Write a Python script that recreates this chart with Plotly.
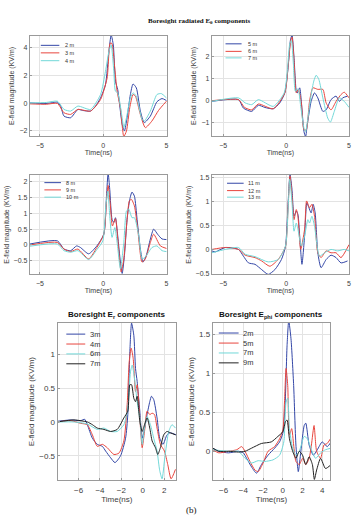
import plotly.graph_objects as go

# ---------------- data ----------------
# Panel 1: Boresight radiated E_theta, 2/3/4 m
p1_t_2m = [-5.8, -4.6, -3.9, -3.62, -3.36, -3.1, -2.57, -2.0, -1.65, -1.0, -0.6, -0.21, 0.18, 0.45, 0.63, 0.8, 0.97, 1.15, 1.5, 1.68, 1.89, 2.15, 2.36, 2.62, 2.94, 3.25, 3.73, 4.25, 4.65, 5.0]
p1_v_2m = [0.02, -0.03, 0.05, 0.07, -0.21, -0.93, -1.05, -0.45, -0.52, -0.57, -0.21, 0.38, 1.33, 3.71, 4.9, 4.19, 1.57, 0.98, -1.52, -2.0, -1.05, 0.62, 1.38, 1.1, -0.57, -1.4, -0.93, 0.1, 0.33, 0.19]
p1_t_3m = [-5.8, -4.5, -3.62, -3.1, -2.57, -2.0, -1.0, -0.21, 0.31, 0.55, 0.68, 0.89, 1.1, 1.36, 1.63, 1.84, 2.1, 2.36, 2.55, 2.94, 3.33, 3.85, 4.38, 5.0]
p1_v_3m = [-0.05, -0.08, -0.02, -0.69, -0.81, -0.45, -0.57, 0.26, 1.81, 4.31, 4.31, 2.76, 0.86, -0.33, -2.4, -2.0, -0.33, 0.62, 0.5, -0.81, -1.76, -1.29, -0.52, 0.14]
p1_t_4m = [-5.8, -4.5, -3.62, -3.1, -2.57, -2.0, -1.0, -0.21, 0.18, 0.45, 0.63, 0.84, 0.97, 1.15, 1.5, 1.63, 1.84, 2.15, 2.36, 2.62, 3.07, 3.25, 3.73, 4.25, 4.6, 5.0]
p1_v_4m = [0.02, 0.05, 0.14, -0.45, -0.57, -0.21, -0.45, 0.62, 2.29, 3.71, 4.19, 2.29, 0.86, 0.74, -1.05, -1.76, -1.05, 0.38, 0.74, 0.5, -1.17, -1.29, -0.57, 0.62, 0.69, 0.38]

# Panel 2: 5/6/7 m
p2_t_5m = [-5.9, -3.78, -3.39, -2.73, -2.2, -1.68, -1.02, -0.5, -0.1, 0.16, 0.34, 0.47, 0.63, 0.81, 0.89, 1.08, 1.21, 1.42, 1.55, 1.68, 1.99, 2.26, 2.52, 2.92, 3.18, 3.57, 3.97, 4.23, 4.49, 4.88]
p2_v_5m = [-0.05, 0.03, -0.36, -0.51, -0.23, -0.33, -0.39, -0.12, 0.34, 1.5, 2.74, 3.0, 1.97, 0.42, 0.34, 0.57, -0.05, -1.44, -1.67, -1.13, -0.05, 0.34, 0.11, -0.51, -0.44, 0.03, 0.19, -0.05, 0.11, 0.19]
p2_t_6m = [-5.9, -3.78, -3.3, -2.73, -2.2, -1.02, -0.1, 0.16, 0.37, 0.47, 0.63, 0.81, 0.97, 1.21, 1.42, 1.6, 1.86, 2.13, 2.52, 2.92, 3.18, 3.57, 3.97, 4.36, 4.62, 5.0]
p2_v_6m = [-0.02, 0.03, -0.33, -0.44, -0.17, -0.39, 0.34, 1.57, 2.74, 2.9, 1.81, 0.34, 0.5, -0.12, -1.36, -1.36, -0.05, 0.57, 0.5, 0.5, -0.12, -0.44, -0.05, 0.26, 0.37, 0.11]
p2_t_7m = [-5.9, -3.78, -3.25, -2.73, -2.2, -1.02, -0.15, 0.1, 0.29, 0.42, 0.58, 0.74, 0.95, 1.16, 1.42, 1.55, 1.73, 1.99, 2.2, 2.39, 2.6, 2.92, 3.31, 3.52, 3.83, 4.23, 4.62, 5.0]
p2_v_7m = [-0.05, 0.11, -0.12, -0.2, 0.03, -0.28, 0.34, 1.35, 2.59, 2.74, 1.66, 0.42, 0.53, -0.28, -1.28, -1.44, -0.82, 0.26, 0.88, 1.15, 0.96, 0.11, -0.82, -1.0, -0.51, 0.11, -0.05, -0.33]

# Panel 3: 8/9/10 m
p3_t_8m = [-5.8, -3.62, -3.1, -2.57, -2.1, -1.8, -1.15, -0.5, 0.05, 0.26, 0.39, 0.52, 0.7, 0.84, 0.97, 1.15, 1.36, 1.5, 1.68, 1.89, 2.1, 2.28, 2.47, 2.68, 2.94, 3.15, 3.41, 3.73, 3.99, 4.3, 4.65, 5.0]
p3_v_8m = [0.03, 0.13, -0.13, -0.18, -0.03, -0.08, -0.28, -0.03, 0.34, 1.54, 2.27, 1.75, 0.81, 0.71, 0.86, 0.29, -0.54, -0.9, -0.33, 0.81, 1.44, 1.67, 1.54, 0.81, -0.13, -0.54, -0.33, 0.19, 0.5, 0.34, 0.19, 0.17]
p3_t_9m = [-5.8, -3.62, -3.1, -2.57, -2.0, -1.15, -0.5, 0.05, 0.26, 0.39, 0.57, 0.73, 0.97, 1.15, 1.42, 1.63, 1.89, 2.07, 2.23, 2.47, 2.73, 3.07, 3.33, 3.73, 3.99, 4.52, 5.0]
p3_v_9m = [0.0, 0.08, -0.13, -0.21, -0.13, -0.44, -0.08, 0.34, 1.39, 1.88, 1.23, 0.6, 0.83, 0.19, -0.85, -0.44, 0.81, 1.39, 1.44, 1.23, 0.5, -0.54, -0.44, 0.08, 0.34, -0.03, -0.11]
p3_t_10m = [-5.8, -3.62, -3.1, -2.57, -2.0, -1.15, -0.5, -0.03, 0.21, 0.37, 0.52, 0.7, 0.92, 1.1, 1.36, 1.63, 1.84, 2.02, 2.28, 2.47, 2.81, 3.07, 3.33, 3.86, 4.25, 4.65, 5.0]
p3_v_10m = [-0.04, 0.03, -0.18, -0.23, -0.18, -0.46, -0.15, 0.13, 1.23, 1.7, 0.9, 0.24, 0.55, 0.08, -0.75, 0.08, 1.07, 1.13, 0.86, 0.86, 0.29, -0.44, -0.38, -0.08, -0.03, -0.18, -0.21]

# Panel 4: 11/12/13 m
p4_t_11m = [-5.9, -5.62, -4.83, -3.78, -3.39, -2.99, -2.47, -1.94, -1.42, -0.89, -0.37, -0.05, 0.16, 0.31, 0.47, 0.63, 0.81, 0.94, 1.08, 1.26, 1.47, 1.65, 1.81, 1.99, 2.15, 2.31, 2.52, 2.78, 3.18, 3.57, 3.97, 4.36, 4.88]
p4_v_11m = [-0.03, -0.05, 0.04, 0.0, -0.14, -0.28, -0.31, -0.42, -0.52, -0.42, -0.21, 0.06, 0.97, 1.56, 1.25, 0.69, 0.8, 0.73, 0.28, -0.31, 0.28, 0.97, 0.87, 0.76, 0.94, 0.76, -0.07, -0.38, -0.21, -0.12, -0.17, -0.28, -0.24]
p4_t_12m = [-5.9, -4.83, -3.78, -3.25, -2.47, -1.94, -1.29, -0.63, -0.05, 0.16, 0.31, 0.47, 0.63, 0.81, 0.94, 1.16, 1.47, 1.63, 1.86, 2.05, 2.26, 2.52, 2.78, 3.18, 3.57, 3.97, 4.36, 5.0]
p4_v_12m = [0.0, 0.04, 0.0, -0.12, -0.17, -0.24, -0.35, -0.21, 0.06, 0.9, 1.53, 1.11, 0.62, 0.83, 0.69, 0.0, 0.42, 1.01, 0.87, 0.94, 0.69, -0.07, -0.17, -0.03, -0.07, -0.07, -0.17, 0.1]
p4_t_13m = [-5.9, -4.83, -3.78, -3.25, -2.47, -1.42, -0.63, -0.05, 0.16, 0.29, 0.47, 0.63, 0.81, 0.94, 1.21, 1.47, 1.73, 1.86, 2.05, 2.26, 2.65, 3.05, 3.57, 4.1, 4.62, 5.0]
p4_v_13m = [-0.07, 0.0, 0.04, -0.1, -0.15, -0.26, -0.21, 0.07, 0.83, 1.46, 0.97, 0.38, 0.55, 0.42, 0.07, 0.28, 0.62, 0.55, 0.69, 0.48, -0.14, -0.07, 0.0, -0.03, 0.0, -0.03]

# Panel 5: Boresight E_r, 3/4/6/7 m
p5_t_3m = [-8.0, -6.73, -5.8, -5.43, -5.18, -4.71, -4.25, -3.78, -3.47, -3.0, -2.6, -2.08, -1.61, -1.4, -1.21, -1.05, -0.84, -0.68, -0.53, -0.28, -0.06, 0.16, 0.4, 0.65, 0.81, 1.02, 1.33, 1.58, 1.89, 2.26, 2.57, 3.1]
p5_v_3m = [0.01, 0.03, 0.02, 0.04, -0.04, -0.24, -0.33, -0.36, -0.43, -0.53, -0.6, -0.5, -0.24, 0.11, 1.04, 1.46, 1.28, 0.79, 0.6, 0.16, -0.24, -0.1, 0.11, 0.3, 0.38, 0.33, 0.06, -0.24, -0.33, -0.19, -0.16, -0.19]
p5_t_4m = [-8.0, -6.73, -5.8, -5.18, -4.71, -4.25, -3.78, -3.32, -2.7, -2.23, -1.77, -1.46, -1.27, -1.09, -0.9, -0.68, -0.53, -0.28, -0.06, 0.16, 0.4, 0.65, 0.87, 1.09, 1.33, 1.64, 2.02, 2.33, 2.64, 3.05]
p5_v_4m = [0.0, 0.02, -0.02, -0.04, -0.19, -0.36, -0.33, -0.38, -0.48, -0.46, -0.28, 0.26, 0.89, 1.09, 0.94, 0.45, 0.55, 0.06, -0.38, -0.14, 0.16, 0.11, 0.13, 0.11, -0.09, -0.33, -0.43, -0.63, -0.84, -0.7]
p5_t_6m = [-8.0, -6.42, -5.18, -4.25, -3.63, -3.01, -2.39, -1.77, -1.4, -1.15, -0.99, -0.78, -0.53, -0.28, -0.06, 0.16, 0.4, 0.71, 1.02, 1.33, 1.58, 1.8, 2.05, 2.42, 2.73, 3.05]
p5_v_6m = [0.0, 0.0, -0.03, -0.11, -0.09, -0.14, -0.14, -0.04, 0.21, 0.74, 0.84, 0.65, 0.3, 0.06, -0.33, -0.09, 0.08, -0.04, -0.24, -0.43, -0.72, -0.84, -0.53, -0.14, -0.04, -0.09]
p5_t_7m = [-8.0, -6.42, -5.18, -4.71, -4.25, -3.63, -3.01, -2.39, -1.77, -1.4, -1.21, -1.05, -0.84, -0.68, -0.53, -0.28, -0.06, 0.16, 0.4, 0.65, 0.87, 1.18, 1.4, 1.64, 1.95, 2.26, 2.57, 3.05]
p5_v_7m = [0.0, 0.03, 0.0, -0.04, -0.09, -0.11, -0.14, -0.11, 0.06, 0.16, 0.55, 0.55, 0.35, 0.3, 0.38, 0.01, -0.14, -0.04, 0.06, -0.09, -0.28, -0.38, -0.48, -0.38, -0.19, -0.14, -0.16, -0.19]

# Panel 6: Boresight E_phi, 2/5/7/9 m
p6_t_2m = [-7.1, -6.5, -5.5, -4.5, -4.0, -3.67, -3.17, -2.67, -2.17, -1.5, -0.83, -0.33, 0.0, 0.23, 0.43, 0.6, 0.83, 1.1, 1.33, 1.57, 1.83, 2.17, 2.33, 2.67, 3.1, 3.5, 4.0, 4.5, 4.9]
p6_v_2m = [0.04, 0.0, -0.02, 0.0, -0.02, -0.09, -0.2, -0.28, -0.17, -0.05, 0.04, 0.12, 0.23, 0.59, 1.35, 1.67, 1.44, 0.84, 0.08, -0.26, 0.0, 0.33, 0.36, 0.08, -0.05, 0.02, 0.12, 0.06, 0.12]
p6_t_5m = [-7.1, -6.5, -5.5, -4.67, -4.17, -3.83, -3.33, -2.83, -2.5, -2.0, -1.5, -0.83, -0.33, 0.0, 0.17, 0.33, 0.5, 0.67, 0.9, 1.1, 1.33, 1.67, 2.0, 2.33, 2.67, 2.9, 3.17, 3.43, 3.83, 4.17, 4.5, 4.83]
p6_v_5m = [0.02, -0.02, 0.0, 0.02, 0.06, 0.0, -0.13, -0.24, -0.26, -0.15, 0.0, 0.06, 0.16, 0.27, 0.63, 1.06, 0.84, 0.21, 0.29, 0.08, -0.13, -0.17, -0.09, -0.17, -0.09, 0.08, 0.33, 0.0, -0.09, 0.08, 0.1, 0.16]
p6_t_7m = [-7.1, -5.5, -4.5, -3.83, -3.17, -2.5, -1.83, -1.0, -0.33, 0.1, 0.33, 0.5, 0.67, 1.0, 1.33, 1.67, 2.17, 2.5, 2.9, 3.33, 3.83, 4.33, 4.9]
p6_v_7m = [0.02, 0.0, 0.0, -0.09, -0.15, -0.12, -0.13, -0.11, -0.05, 0.12, 0.63, 0.68, 0.29, 0.04, -0.05, 0.0, 0.19, 0.16, 0.02, -0.09, -0.02, 0.02, 0.04]
p6_t_9m = [-7.1, -6.5, -5.5, -4.5, -3.83, -3.17, -2.17, -1.17, -0.5, 0.0, 0.27, 0.43, 0.67, 1.0, 1.33, 1.67, 2.0, 2.33, 2.67, 3.0, 3.2, 3.43, 3.83, 4.33, 4.9]
p6_v_9m = [0.04, 0.0, 0.0, -0.01, 0.0, 0.04, 0.1, 0.12, 0.19, 0.25, 0.38, 0.4, 0.16, 0.0, -0.09, 0.0, -0.05, -0.17, -0.07, -0.17, -0.36, -0.24, -0.09, -0.22, -0.17]

# labels / ticks
main_title = "Boresight radiated E<sub>θ</sub> components"
title_r = "Boresight E<sub>r</sub> components"
title_phi = "Boresight E<sub>phi</sub> components"
x_title = "Time(ns)"
y_title = "E-field magnitude (KV/m)"

# ---------------- styling / layout ----------------
BLUE, RED, CYAN, BLACK = "#3346a6", "#e8463e", "#72d8d8", "#222222"
W, H = 358, 518
FONT = "Liberation Sans, Arial, sans-serif"

# panel boxes in pixels: (left, right, top, bottom)
boxes = [(30, 168, 35, 136), (213, 351, 35, 136),
         (30, 168, 175, 275), (213, 351, 175, 275),
         (58, 177, 324, 482), (214, 332, 324, 482)]

panels = [
    dict(series=[(p1_t_2m, p1_v_2m, "2 m", BLUE), (p1_t_3m, p1_v_3m, "3 m", RED), (p1_t_4m, p1_v_4m, "4 m", CYAN)],
         xr=[-5.8, 5.05], yr=[-2.38, 4.85], xt=[-5, 0, 5], yt=[-2, 0, 2, 4], small=True,
         leg=dict(x0=0.08, x1=0.215, xt=0.24, ys=[0.905, 0.83, 0.752])),
    dict(series=[(p2_t_5m, p2_v_5m, "5 m", BLUE), (p2_t_6m, p2_v_6m, "6 m", RED), (p2_t_7m, p2_v_7m, "7 m", CYAN)],
         xr=[-5.9, 5.0], yr=[-1.65, 2.96], xt=[-5, 0, 5], yt=[-1, 0, 1, 2], small=True,
         leg=dict(x0=0.10, x1=0.217, xt=0.246, ys=[0.92, 0.845, 0.78])),
    dict(series=[(p3_t_8m, p3_v_8m, "8 m", BLUE), (p3_t_9m, p3_v_9m, "9 m", RED), (p3_t_10m, p3_v_10m, "10 m", CYAN)],
         xr=[-5.8, 5.05], yr=[-0.93, 2.21], xt=[-5, 0, 5], yt=[-0.5, 0, 0.5, 1, 1.5, 2], small=True,
         leg=dict(x0=0.106, x1=0.227, xt=0.251, ys=[0.923, 0.85, 0.777])),
    dict(series=[(p4_t_11m, p4_v_11m, "11 m", BLUE), (p4_t_12m, p4_v_12m, "12 m", RED), (p4_t_13m, p4_v_13m, "13 m", CYAN)],
         xr=[-5.9, 5.0], yr=[-0.52, 1.55], xt=[-5, 0, 5], yt=[-0.5, 0, 0.5, 1, 1.5], small=True,
         leg=dict(x0=0.111, x1=0.232, xt=0.25, ys=[0.917, 0.843, 0.777])),
    dict(series=[(p5_t_3m, p5_v_3m, "3m", BLUE), (p5_t_4m, p5_v_4m, "4m", RED), (p5_t_6m, p5_v_6m, "6m", CYAN), (p5_t_7m, p5_v_7m, "7m", BLACK)],
         xr=[-7.95, 3.1], yr=[-0.86, 1.46], xt=[-6, -4, -2, 0, 2], yt=[-0.5, 0, 0.5, 1], small=False,
         leg=dict(x0=0.073, x1=0.233, xt=0.255, ys=[0.93, 0.867, 0.804, 0.741])),
    dict(series=[(p6_t_2m, p6_v_2m, "2m", BLUE), (p6_t_5m, p6_v_5m, "5m", RED), (p6_t_7m, p6_v_7m, "7m", CYAN), (p6_t_9m, p6_v_9m, "9m", BLACK)],
         xr=[-7.1, 4.8], yr=[-0.37, 1.64], xt=[-6, -4, -2, 0, 2, 4], yt=[0, 0.5, 1, 1.5], small=False,
         leg=dict(x0=0.051, x1=0.22, xt=0.24, ys=[0.937, 0.873, 0.81, 0.747])),
]

fig = go.Figure()
layout = dict(width=W, height=H, autosize=False, margin=dict(l=0, r=0, t=0, b=0),
              paper_bgcolor="white", plot_bgcolor="white", showlegend=False,
              font=dict(family=FONT, color="#333333"))
shapes, annotations = [], []

for i, (p, box) in enumerate(zip(panels, boxes), start=1):
    sfx = "" if i == 1 else str(i)
    xa, ya = "xaxis" + sfx, "yaxis" + sfx
    xref, yref = "x" + sfx, "y" + sfx
    l, r, t, b = box
    fs = 7 if p["small"] else 8
    for (tt, vv, name, col) in p["series"]:
        fig.add_trace(go.Scatter(x=tt, y=vv, name=name, mode="lines",
                                 line=dict(color=col, width=1, shape="spline", smoothing=0.6),
                                 xaxis=xref, yaxis=yref, cliponaxis=True))
    common = dict(showgrid=True, gridcolor="#e3e3e3", gridwidth=1, zeroline=False,
                  showline=True, linecolor="#9a9a9a", linewidth=1, mirror=True,
                  ticks="inside", ticklen=2, tickcolor="#9a9a9a",
                  tickfont=dict(size=fs, family=FONT, color="#404040"))
    layout[xa] = dict(common, domain=[l / W, r / W], range=p["xr"], tickvals=p["xt"],
                      anchor=yref, ticklabelstandoff=2,
                      title=dict(text=x_title, font=dict(size=fs, family=FONT, color="#404040"), standoff=1))
    layout[ya] = dict(common, domain=[1 - b / H, 1 - t / H], range=p["yr"], tickvals=p["yt"],
                      anchor=xref,
                      title=dict(text=y_title, font=dict(size=fs, family=FONT, color="#404040"), standoff=3))
    # in-plot legend (MATLAB style, upper left)
    lg = p["leg"]
    lfs = 5.5 if p["small"] else 7.5
    for (tt, vv, name, col), yy in zip(p["series"], lg["ys"]):
        shapes.append(dict(type="line", xref=xref + " domain", yref=yref + " domain",
                           x0=lg["x0"], x1=lg["x1"], y0=yy, y1=yy,
                           line=dict(color=col, width=1)))
        annotations.append(dict(text=name, xref=xref + " domain", yref=yref + " domain",
                                x=lg["xt"], y=yy, xanchor="left", yanchor="middle",
                                showarrow=False, font=dict(size=lfs, family=FONT, color="#333333")))

# titles
annotations.append(dict(text="<b>" + main_title + "</b>", xref="paper", yref="paper",
                        x=200 / W, y=1 - 20 / H, xanchor="center", yanchor="middle", showarrow=False,
                        font=dict(size=7, family="Liberation Serif, Times New Roman, serif", color="#111111")))
annotations.append(dict(text="<b>" + title_r + "</b>", xref="paper", yref="paper",
                        x=117.5 / W, y=1 - 316 / H, xanchor="center", yanchor="middle", showarrow=False,
                        font=dict(size=8, family=FONT, color="#111111")))
annotations.append(dict(text="<b>" + title_phi + "</b>", xref="paper", yref="paper",
                        x=273 / W, y=1 - 316 / H, xanchor="center", yanchor="middle", showarrow=False,
                        font=dict(size=8, family=FONT, color="#111111")))
annotations.append(dict(text="(b)", xref="paper", yref="paper",
                        x=193 / W, y=1 - 512 / H, xanchor="center", yanchor="middle", showarrow=False,
                        font=dict(size=9, family="Liberation Serif, Times New Roman, serif", color="#111111")))

layout["shapes"] = shapes
layout["annotations"] = annotations
fig.update_layout(**layout)
fig.write_html("out.html")
